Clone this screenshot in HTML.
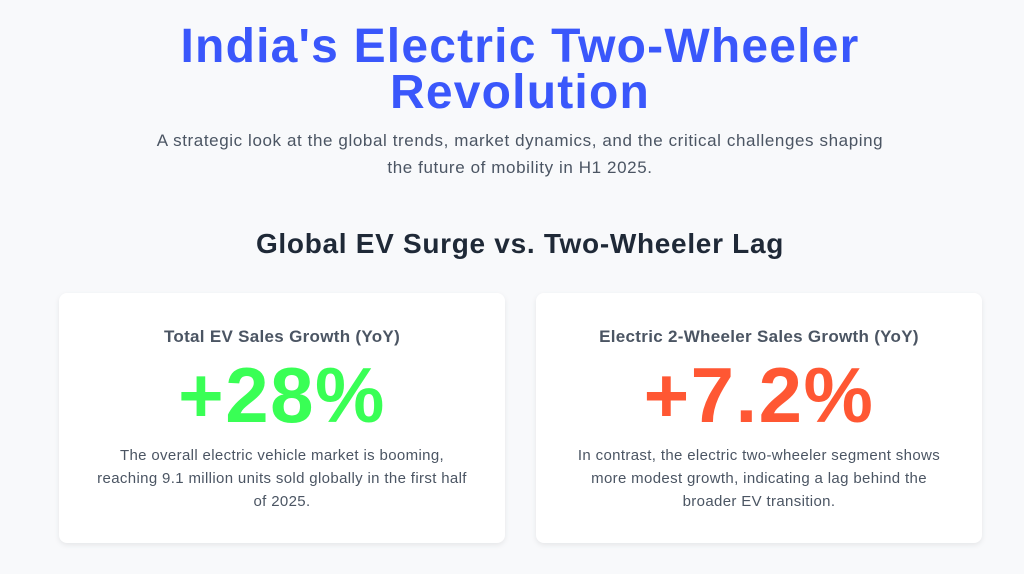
<!DOCTYPE html>
<html><head><meta charset="utf-8"><style>
body{margin:0;width:1024px;height:574px;overflow:hidden;background:#f8f9fb;font-family:"Liberation Sans",sans-serif;}
h1{margin:0;position:absolute;top:24px;left:0;width:1040px;text-align:center;font-size:48px;line-height:46px;font-weight:900;color:#3a57fb;letter-spacing:1.2px;}
.sub{position:absolute;top:127px;left:0;width:1040px;text-align:center;font-size:17px;line-height:27px;color:#4b5563;letter-spacing:0.6px;}
h2{margin:0;position:absolute;top:228px;left:0;width:1040px;text-align:center;font-size:28px;font-weight:bold;color:#1f2937;letter-spacing:0.7px;}
.card{position:absolute;top:293px;width:446px;height:250px;background:#fff;border-radius:8px;box-shadow:0 2px 6px rgba(0,0,0,.08);text-align:center;}
.card .t{position:absolute;top:34px;left:0;right:0;font-size:17px;font-weight:bold;color:#4b5563;letter-spacing:0.3px;}
.card .n{position:absolute;top:60px;left:0;right:0;font-size:78px;line-height:84px;font-weight:900;letter-spacing:1.5px;}
.card .d{position:absolute;top:151px;left:30px;right:30px;font-size:15px;line-height:23px;color:#4b5563;letter-spacing:0.35px;}
</style></head><body>
<h1>India's Electric Two-Wheeler<br>Revolution</h1>
<div class="sub">A strategic look at the global trends, market dynamics, and the critical challenges shaping<br>the future of mobility in H1 2025.</div>
<h2>Global EV Surge vs. Two-Wheeler Lag</h2>
<div class="card" style="left:59px"><div class="t">Total EV Sales Growth (YoY)</div><div class="n" style="color:#39ff55">+28%</div><div class="d">The overall electric vehicle market is booming,<br>reaching 9.1 million units sold globally in the first half<br>of 2025.</div></div>
<div class="card" style="left:536px"><div class="t">Electric 2-Wheeler Sales Growth (YoY)</div><div class="n" style="color:#ff5733">+7.2%</div><div class="d">In contrast, the electric two-wheeler segment shows<br>more modest growth, indicating a lag behind the<br>broader EV transition.</div></div>
</body></html>
